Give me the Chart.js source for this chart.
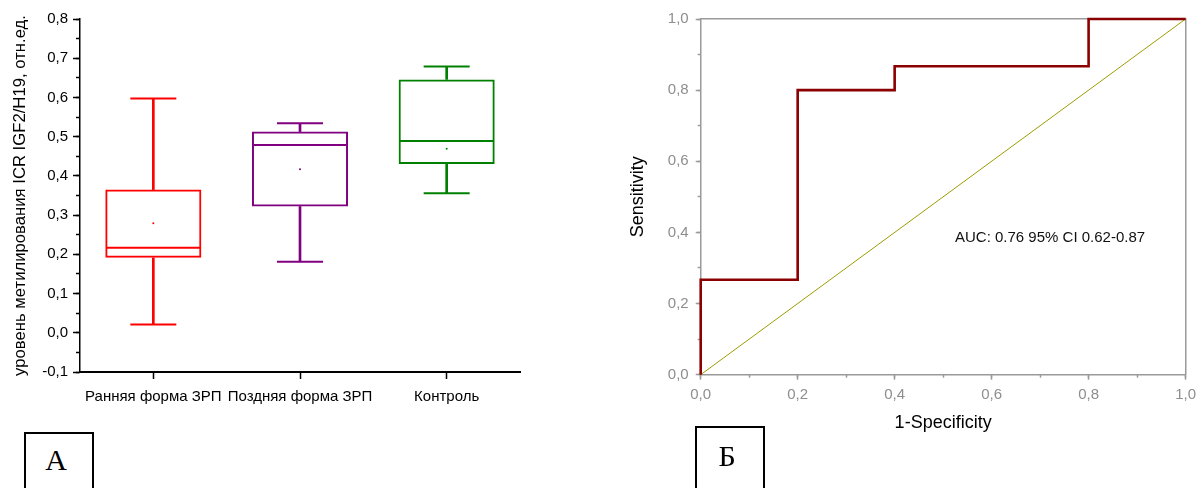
<!DOCTYPE html>
<html lang="ru">
<head>
<meta charset="utf-8">
<title>Метилирование ICR IGF2/H19 и ROC-кривая</title>
<script src="https://cdn.jsdelivr.net/npm/chart.js@4.4.1/dist/chart.umd.min.js"></script>
<style>
  html, body { margin: 0; padding: 0; background: #fff; }
  body { width: 1197px; height: 488px; position: relative; overflow: hidden; font-family: "Liberation Sans", Arial, sans-serif; }
  #boxWrap { position: absolute; left: 0; top: 0; width: 540px; height: 420px; }
  #rocWrap { position: absolute; left: 600px; top: 0; width: 602px; height: 440px; }
  .panel-tag { position: absolute; box-sizing: border-box; border: 2px solid #000; border-bottom: none; width: 70px; height: 70px;
               font-family: "Liberation Serif", "Times New Roman", serif; font-size: 30px; text-align: center; padding-right: 6px; color: #000; }
  #tagA { left: 24px; top: 432px; line-height: 52px; }
  #tagB { left: 695px; top: 426px; line-height: 56px; }
  #auc { position: absolute; left: 955px; top: 228px; font-size: 15px; line-height: 17px; color: #111; white-space: nowrap; }
</style>
</head>
<body>
<div id="boxWrap"><canvas id="boxChart" width="540" height="420"></canvas></div>
<div id="rocWrap"><canvas id="rocChart" width="602" height="440"></canvas></div>
<div id="auc"></div>
<div class="panel-tag" id="tagA">А</div>
<div class="panel-tag" id="tagB">Б</div>
<script>
// --- Панель А: уровень метилирования по группам ---
const groups = ['Ранняя форма ЗРП', 'Поздняя форма ЗРП', 'Контроль'];
const groupColors = ['#ff0000', '#800080', '#008000'];
const whiskerLow = [0.021, 0.181, 0.356];
const q1 = [0.191, 0.322, 0.430];
const medians = [0.217, 0.479, 0.489];
const q3 = [0.365, 0.513, 0.646];
const whiskerHigh = [0.597, 0.534, 0.679];
const means = [0.279, 0.417, 0.469];

// --- Панель Б: ROC-кривая ---
const rocFpr = [0, 0, 0.2, 0.2, 0.4, 0.4, 0.8, 0.8, 1];
const rocTpr = [0, 0.267, 0.267, 0.8, 0.8, 0.867, 0.867, 1, 1];
const refFpr = [0, 1];
const refTpr = [0, 1];
const aucText = 'AUC: 0.76 95% CI 0.62-0.87';

const FONT = '"Liberation Sans", Arial, sans-serif';
const axisGray = '#9a9a9a';
const labelGray = '#8e8e8e';

// 0.2 -> "0,2"
const comma = v => Number(v).toFixed(1).replace('.', ',');

document.getElementById('auc').textContent = aucText;

// ящик + усы: вертикальные усы и ящик - плавающие столбики, медиана и концы усов - точки стиля 'line'
const boxChart = new Chart(document.getElementById('boxChart'), {
    type: 'bar',
    data: {
        labels: groups,
        datasets: [
            { label: 'верхний ус', data: groups.map((g, i) => [q3[i], whiskerHigh[i]]), backgroundColor: groupColors, borderWidth: 0, barThickness: 2, grouped: false },
            { label: 'нижний ус', data: groups.map((g, i) => [whiskerLow[i], q1[i]]), backgroundColor: groupColors, borderWidth: 0, barThickness: 2, grouped: false },
            { label: 'ящик', data: groups.map((g, i) => [q1[i], q3[i]]), backgroundColor: 'rgba(255,255,255,0)', borderColor: groupColors, borderWidth: 2,
              borderSkipped: false, categoryPercentage: 1, barPercentage: 0.655, grouped: false },
            { type: 'line', label: 'медиана', data: medians, showLine: false, pointStyle: 'line', pointRadius: 47, pointBorderWidth: 2, pointBorderColor: groupColors },
            { type: 'line', label: 'максимум', data: whiskerHigh, showLine: false, pointStyle: 'line', pointRadius: 23, pointBorderWidth: 2, pointBorderColor: groupColors },
            { type: 'line', label: 'минимум', data: whiskerLow, showLine: false, pointStyle: 'line', pointRadius: 23, pointBorderWidth: 2, pointBorderColor: groupColors },
            { type: 'line', label: 'среднее', data: means, showLine: false, pointStyle: 'circle', pointRadius: 1, pointBorderWidth: 0, pointBackgroundColor: groupColors }
        ]
    },
    options: {
        responsive: false, animation: false, events: [],
        layout: { autoPadding: false, padding: { left: 0, top: 19, right: 20, bottom: 0 } },
        plugins: { legend: { display: false }, tooltip: { enabled: false } },
        scales: {
            x: {
                type: 'category', offset: true,
                grid: { offset: false, drawOnChartArea: false, tickLength: 7, tickColor: '#000', tickWidth: 1.5 },
                border: { color: '#000', width: 2 },
                ticks: { color: '#000', font: { family: FONT, size: 15 }, padding: 9, maxRotation: 0, autoSkip: false },
                afterFit: s => { s.height = 48; }
            },
            y: {
                type: 'linear', position: 'left', weight: 1, min: -0.1, max: 0.8,
                ticks: { stepSize: 0.1, callback: v => comma(v), color: '#000', font: { family: FONT, size: 15 }, padding: 5 },
                grid: { drawOnChartArea: false, tickLength: 7, tickColor: '#000', tickWidth: 1.5 },
                border: { color: '#000', width: 1.5 },
                title: { display: true, text: 'уровень метилирования ICR IGF2/H19, отн.ед.', color: '#000', font: { family: FONT, size: 16.7 }, padding: { top: 10, bottom: 0 } },
                afterFit: s => { s.width = 80; }
            },
            yMinor: {
                type: 'linear', position: 'left', weight: 0, min: -0.1, max: 0.8,
                ticks: { stepSize: 0.05, display: false },
                grid: { drawOnChartArea: false, tickLength: 4, tickColor: '#000', tickWidth: 1.5 },
                border: { display: false },
                afterFit: s => { s.width = 0; }
            }
        }
    }
});

// ROC-кривая с диагональю
const rocChart = new Chart(document.getElementById('rocChart'), {
    type: 'line',
    data: {
        datasets: [
            { label: 'ROC', data: rocFpr.map((x, i) => ({ x, y: rocTpr[i] })), borderColor: '#8b0000', borderWidth: 2.6, pointRadius: 0, tension: 0, clip: false },
            { label: 'случайный классификатор', data: refFpr.map((x, i) => ({ x, y: refTpr[i] })), borderColor: '#9c9c00', borderWidth: 1, pointRadius: 0, clip: false }
        ]
    },
    options: {
        responsive: false, animation: false, events: [],
        layout: { autoPadding: false, padding: { left: 0, top: 19, right: 12, bottom: 0 } },
        plugins: { legend: { display: false }, tooltip: { enabled: false } },
        scales: {
            x: {
                type: 'linear', position: 'bottom', weight: 1, min: 0, max: 1,
                ticks: { stepSize: 0.2, callback: v => comma(v), color: labelGray, font: { family: FONT, size: 15 }, padding: 6, maxRotation: 0 },
                grid: { drawOnChartArea: false, tickLength: 5, tickColor: axisGray, tickWidth: 1.5 },
                border: { color: axisGray, width: 1.5 },
                title: { display: true, text: '1-Specificity', color: '#000', font: { family: FONT, size: 18 }, padding: { top: 0, bottom: 6 } },
                afterFit: s => { s.height = 65.3; }
            },
            xMinor: {
                type: 'linear', position: 'bottom', weight: 0, min: 0, max: 1,
                ticks: { stepSize: 0.1, display: false },
                grid: { drawOnChartArea: false, tickLength: 3, tickColor: axisGray, tickWidth: 1.5 },
                border: { display: false },
                afterFit: s => { s.height = 0; }
            },
            y: {
                type: 'linear', position: 'left', weight: 1, min: 0, max: 1,
                ticks: { stepSize: 0.2, callback: v => comma(v), color: labelGray, font: { family: FONT, size: 15 }, padding: 7 },
                grid: { drawOnChartArea: false, tickLength: 5, tickColor: axisGray, tickWidth: 1.5 },
                border: { color: axisGray, width: 1.5 },
                title: { display: true, text: 'Sensitivity', color: '#000', font: { family: FONT, size: 18 }, padding: { top: 27, bottom: 0 } },
                afterFit: s => { s.width = 100.7; }
            },
            yMinor: {
                type: 'linear', position: 'left', weight: 0, min: 0, max: 1,
                ticks: { stepSize: 0.1, display: false },
                grid: { drawOnChartArea: false, tickLength: 3, tickColor: axisGray, tickWidth: 1.5 },
                border: { display: false },
                afterFit: s => { s.width = 0; }
            },
            xTop: {
                type: 'linear', position: 'top', min: 0, max: 1,
                ticks: { display: false }, grid: { display: false },
                border: { color: axisGray, width: 1.5 },
                afterFit: s => { s.height = 0; }
            },
            yRight: {
                type: 'linear', position: 'right', min: 0, max: 1,
                ticks: { display: false }, grid: { display: false },
                border: { color: axisGray, width: 1.5 },
                afterFit: s => { s.width = 0; }
            }
        }
    }
});
</script>
</body>
</html>
